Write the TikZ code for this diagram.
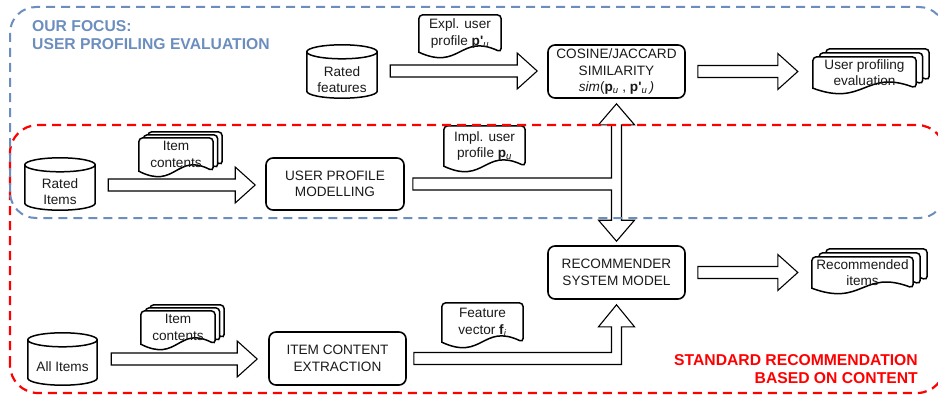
\documentclass[tikz,border=0pt]{standalone}
\usepackage{fontspec}
\setmainfont{Liberation Sans}
\usetikzlibrary{calc}
\definecolor{focusblue}{HTML}{6C8EBF}
\definecolor{stdred}{HTML}{FF0000}
\definecolor{txt}{HTML}{1A1A1A}
\pgfdeclarelayer{bg}
\pgfsetlayers{bg,main}

\tikzset{
  every node/.style={font=\fontsize{13.6}{16.5}\selectfont, text=txt},
  holder/.style={draw=none, inner sep=0pt, align=center},
  procbox/.style={draw=black, line width=1.6pt, rounded corners=7pt, inner sep=0pt, align=center, fill=white},
  shapeline/.style={draw=black, line width=1.5pt, fill=white},
  arrowline/.style={draw=black, line width=1.1pt, fill=white, line join=miter},
  regionblue/.style={draw=focusblue, line width=2pt, dash pattern=on 9pt off 6pt, rounded corners=26pt},
  regionred/.style={draw=stdred, line width=2.2pt, dash pattern=on 9pt off 6pt, rounded corners=28pt},
  titletext/.style={font=\fontsize{15.7}{18}\selectfont\bfseries, inner sep=0pt}
}

\newcommand\cylinderdraw[1]{%
  \draw[shapeline] let \p1=(#1.south west), \p2=(#1.north east), \n1={(\x2-\x1)/2} in
    (\x1,\y2-7) -- (\x1,\y1+7)
    arc[start angle=180, end angle=360, x radius=\n1, y radius=7pt]
    -- (\x2,\y2-7)
    arc[start angle=0, end angle=180, x radius=\n1, y radius=7pt] -- cycle
    (\x1,\y2-7) arc[start angle=180, end angle=360, x radius=\n1, y radius=7pt];
}

\newcommand\docdraw[2]{%
  \draw[shapeline] let \p1=($(#1.south west)+#2$), \p2=($(#1.north east)+#2$),
    \p3=($(\p1)!0.5!(\p2)$) in
    (\x1,\y1) [rounded corners=4pt] -- (\x1,\y2) -- (\x2,\y2) -- (\x2,\y1) [sharp corners]
    .. controls (\x3,\y1+19) and (\x3,\y1-19) .. (\x1,\y1) -- cycle;
}

\newcommand\bigharrow[2]{%
  \draw[arrowline] let \p1=(#1), \p2=(#2) in
    (\x1,\y1+6) -- (\x2-20,\y1+6) -- (\x2-20,\y1+18) -- (\x2,\y1)
    -- (\x2-20,\y1-18) -- (\x2-20,\y1-6) -- (\x1,\y1-6) -- cycle;
}

\begin{document}
\begin{tikzpicture}[x=1pt,y=1pt]
\useasboundingbox (0,0) rectangle (938,400);

% ---- row 1
\node[holder, minimum width=70pt, minimum height=53pt] (rf) at (342,328.5) {};
\node[holder] (rft) at ($(rf.center)+(0,-8)$) {Rated\\features};
\node[holder, minimum width=82pt, minimum height=37pt] (expl) at (460,366.5)
  {Expl. user\\profile \textbf{p\textquotesingle}\textsubscript{\textit{u}}};
\node[procbox, minimum width=137pt, minimum height=53pt] (cos) at (616.5,328.5)
  {COSINE/JACCARD\\SIMILARITY\\\textit{sim}(\textbf{p}\textsubscript{\textit{u}} , \textbf{p\textquotesingle}\textsubscript{\textit{u}}\,\textit{)}};
\node[holder, minimum width=103pt, minimum height=31pt] (upe) at (864.5,327.5) {User profiling\\evaluation};

% ---- row 2
\node[holder, minimum width=70pt, minimum height=52pt] (ri) at (60,216) {};
\node[holder] (rit) at ($(ri.center)+(0,-7.5)$) {Rated\\Items};
\node[holder, minimum width=74pt, minimum height=33pt] (ic1) at (176,245.5) {Item\\contents};
\node[procbox, minimum width=138pt, minimum height=52pt] (upm) at (335,216) {USER PROFILE\\MODELLING};
\node[holder, minimum width=81pt, minimum height=40pt] (impl) at (484.5,254)
  {Impl. user\\profile \textbf{p}\textsubscript{\textit{u}}};

% ---- row 3
\node[procbox, minimum width=137pt, minimum height=53pt] (rec) at (616.5,127.5) {RECOMMENDER\\SYSTEM MODEL};
\node[holder, minimum width=101pt, minimum height=31pt] (rci) at (862.5,127.5) {Recommended\\items};

% ---- row 4
\node[holder, minimum width=69pt, minimum height=52pt] (ai) at (62.5,41) {};
\node[holder] (ait) at ($(ai.center)+(0,-8)$) {All Items};
\node[holder, minimum width=74pt, minimum height=33pt] (ic2) at (178,72.5) {Item\\contents};
\node[procbox, minimum width=137pt, minimum height=53pt] (ice) at (337.5,41.5) {ITEM CONTENT\\EXTRACTION};
\node[holder, minimum width=81pt, minimum height=39pt] (fv) at (482.5,77.5)
  {Feature\\vector \textbf{f}\textsubscript{\textit{i}}};

% ---- titles
\node[titletext, text=focusblue, anchor=north west, align=left] (focus) at (32,380)
  {OUR FOCUS:\\USER PROFILING EVALUATION};
\node[titletext, text=stdred, anchor=north east, align=right] (std) at (918,46)
  {STANDARD RECOMMENDATION\\BASED ON CONTENT};

\begin{pgfonlayer}{bg}
  \cylinderdraw{rf}
  \cylinderdraw{ri}
  \cylinderdraw{ai}
  \docdraw{expl}{(0,0)}
  \docdraw{impl}{(0,0)}
  \docdraw{fv}{(0,0)}
  \docdraw{upe}{(13,8)}\docdraw{upe}{(6.5,4)}\docdraw{upe}{(0,0)}
  \docdraw{rci}{(14,8)}\docdraw{rci}{(7,4)}\docdraw{rci}{(0,0)}
  \docdraw{ic1}{(9,6)}\docdraw{ic1}{(4.5,3)}\docdraw{ic1}{(0,0)}
  \docdraw{ic2}{(9,6)}\docdraw{ic2}{(4.5,3)}\docdraw{ic2}{(0,0)}

  \bigharrow{$(rf.east)+(13,0.5)$}{$(cos.west)+(-10,0)$}
  \bigharrow{$(cos.east)+(12,0)$}{$(upe.west)+(-15,0)$}
  \bigharrow{$(ri.east)+(13,-1)$}{$(upm.west)+(-10,0)$}
  \bigharrow{$(rec.east)+(12,0)$}{$(rci.west)+(-14,0)$}
  \bigharrow{$(ai.east)+(14,0)$}{$(ice.west)+(-11,0)$}

  % T-shaped double arrow
  \draw[arrowline] let \p1=(upm.east), \p2=(cos.south), \p3=(rec.north) in
    (\x1+8,\y1+6) -- (\x2-5,\y1+6) -- (\x2-5,\y2-26) -- (\x2-18,\y2-26) -- (\x2,\y2-5)
    -- (\x2+18,\y2-26) -- (\x2+5,\y2-26) -- (\x2+5,\y3+25) -- (\x2+18,\y3+25)
    -- (\x2,\y3+4) -- (\x2-18,\y3+25) -- (\x2-5,\y3+25) -- (\x2-5,\y1-6)
    -- (\x1+8,\y1-6) -- cycle;

  % L-shaped arrow
  \draw[arrowline] let \p1=(ice.east), \p2=(rec.south) in
    (\x1+7,\y1+6) -- (\x2-5,\y1+6) -- (\x2-5,\y2-27) -- (\x2-18,\y2-27) -- (\x2,\y2-5)
    -- (\x2+18,\y2-27) -- (\x2+5,\y2-27) -- (\x2+5,\y1-6) -- (\x1+7,\y1-6) -- cycle;
\end{pgfonlayer}

% ---- regions
\draw[regionred] (10,7) rectangle (945,275);
\draw[regionblue] (10,182) rectangle (945,393);
\end{tikzpicture}
\end{document}
